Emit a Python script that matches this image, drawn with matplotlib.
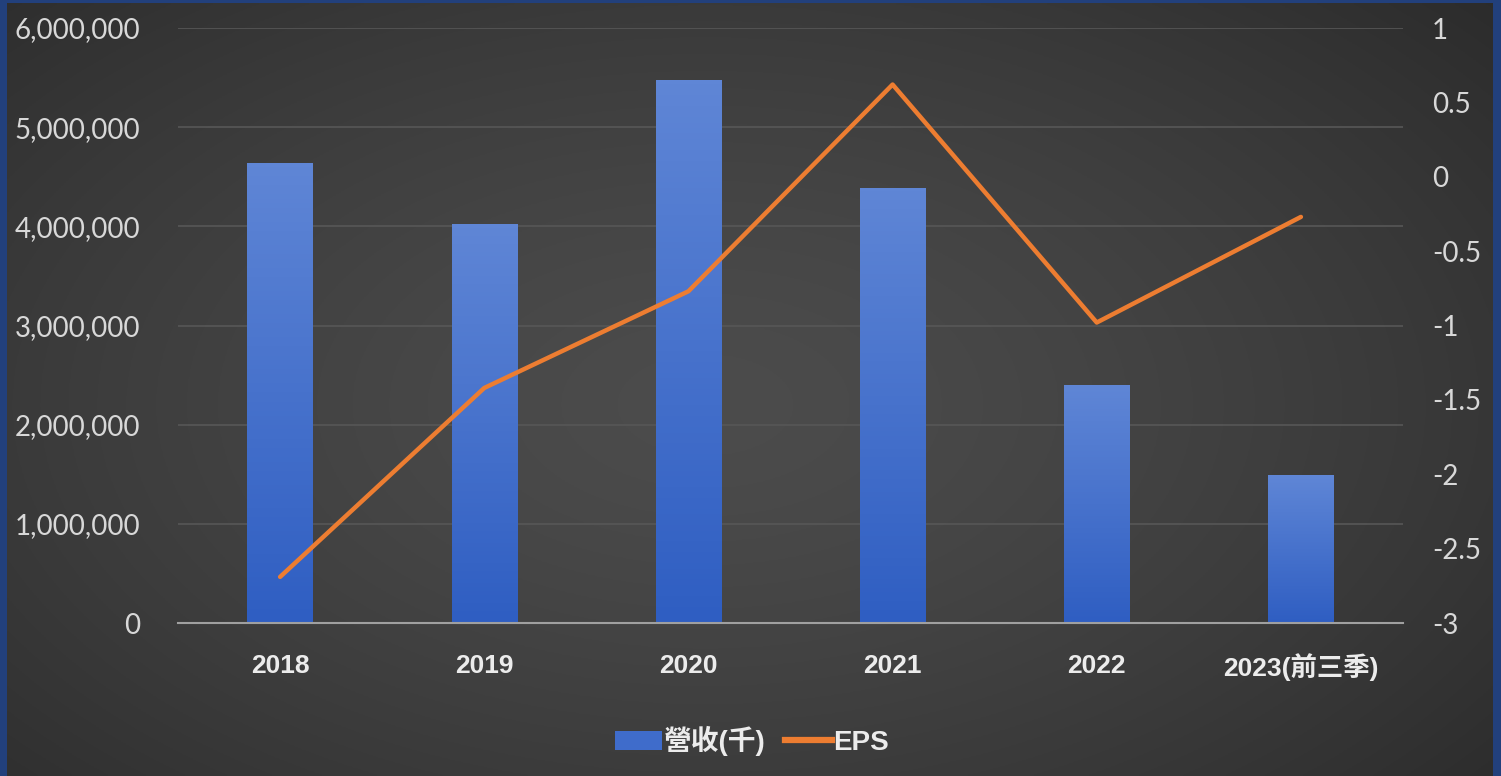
import numpy as np
import matplotlib
matplotlib.use('Agg')
import matplotlib.pyplot as plt
from matplotlib.ticker import FuncFormatter, MultipleLocator
from matplotlib.lines import Line2D
from matplotlib.patches import Patch
from matplotlib import font_manager

categories = ['2018', '2019', '2020', '2021', '2022', '2023(前三季)']
revenue = [4640000, 4020000, 5480000, 4390000, 2400000, 1490000]
eps = [-2.69, -1.42, -0.77, 0.62, -0.98, -0.27]
revenue_label = '營收(千)'
eps_label = 'EPS'

names = {f.name for f in font_manager.fontManager.ttflist}
narrow = 'Liberation Sans Narrow' in names
cat_family = ['Liberation Sans Narrow' if narrow else 'Liberation Sans', 'Noto Sans CJK TC']
cat_size = 21 if narrow else 19
num_family = ['Lato', 'DejaVu Sans']

W, H = 1501, 776
fig = plt.figure(figsize=(W / 100, H / 100), dpi=100)
fig.patch.set_facecolor('#22407c')

# background gradient panel
bg = fig.add_axes([7 / W, 0, (1493 - 7) / W, (776 - 3) / H])
bg.set_axis_off()
ny, nx = 300, 600
yy, xx = np.mgrid[0:1:ny * 1j, 0:1:nx * 1j]
r = np.sqrt(((xx - 0.47) / 0.72) ** 2 + ((yy - 0.52) / 0.80) ** 2)
v = (0x4c - (0x4c - 0x2b) * np.clip(r, 0, 1) ** 1.4) / 255.0
img = np.dstack([v, v, v])
bg.imshow(img, extent=[0, 1, 0, 1], aspect='auto', origin='upper')
bg.set_xlim(0, 1)
bg.set_ylim(0, 1)

ax = fig.add_axes([178 / W, (776 - 623) / H, (1403 - 178) / W, (623 - 28) / H])
ax.set_facecolor('none')
x = np.arange(len(categories))
bars = ax.bar(x, revenue, width=0.32, color='#4672cc', zorder=2)
grad = np.linspace(0, 1, 100)[:, None]
top_c = np.array([0x5f, 0x86, 0xd6]) / 255
bot_c = np.array([0x2f, 0x5e, 0xc2]) / 255
gimg = top_c[None, None, :] * (1 - grad[:, :, None]) + bot_c[None, None, :] * grad[:, :, None]
for b in bars:
    bx, bw, bh = b.get_x(), b.get_width(), b.get_height()
    im = ax.imshow(gimg, extent=[bx, bx + bw, 0, bh], aspect='auto', origin='upper', zorder=3)
    im.set_clip_path(b)

ax.set_xlim(-0.5, len(categories) - 0.5)
ax.set_ylim(0, 6000000)
ax.yaxis.set_major_locator(MultipleLocator(1000000))
ax.yaxis.set_major_formatter(FuncFormatter(lambda val, p: f'{int(val):,}'))
ax.grid(axis='y', color='#575757', linewidth=1.2, zorder=0)
ax.set_axisbelow(True)
for s in ['top', 'right', 'left']:
    ax.spines[s].set_visible(False)
ax.spines['bottom'].set_color('#a0a0a0')
ax.spines['bottom'].set_linewidth(1.5)
ax.spines['bottom'].set_zorder(5)
ax.set_xticks(x)
ax.set_xticklabels(categories)
ax.tick_params(axis='x', length=0, pad=22)
ax.tick_params(axis='y', length=0, pad=27)
for t in ax.get_xticklabels():
    t.set_family(cat_family)
    t.set_fontsize(cat_size)
    t.set_fontweight('bold')
    t.set_color('#ececec')
for t in ax.get_yticklabels():
    t.set_family(num_family)
    t.set_fontsize(20)
    t.set_color('#d8d8d8')

ax2 = ax.twinx()
ax2.set_ylim(-3, 1)
ax2.yaxis.set_major_locator(MultipleLocator(0.5))
ax2.yaxis.set_major_formatter(FuncFormatter(lambda val, p: f'{val:g}'))
ax2.plot(x, eps, color='#ed7d31', linewidth=3.2, solid_capstyle='round', solid_joinstyle='round', zorder=6)
for s in ax2.spines.values():
    s.set_visible(False)
ax2.tick_params(axis='y', length=0, pad=21)
for t in ax2.get_yticklabels():
    t.set_family(num_family)
    t.set_fontsize(20)
    t.set_color('#d8d8d8')

handles = [Patch(facecolor='#3f6ccb', edgecolor='none'),
           Line2D([0], [0], color='#ed7d31', linewidth=4.5)]
leg = fig.legend(handles, [revenue_label, eps_label], loc='center',
                 bbox_to_anchor=(752 / W, 1 - 741 / H), ncol=2, frameon=False,
                 prop={'family': cat_family, 'weight': 'bold', 'size': 20},
                 handlelength=1.7, handletextpad=0.05, columnspacing=0.7)
for t in leg.get_texts():
    t.set_color('#ececec')

fig.savefig('out.png', dpi=100, facecolor=fig.get_facecolor())
